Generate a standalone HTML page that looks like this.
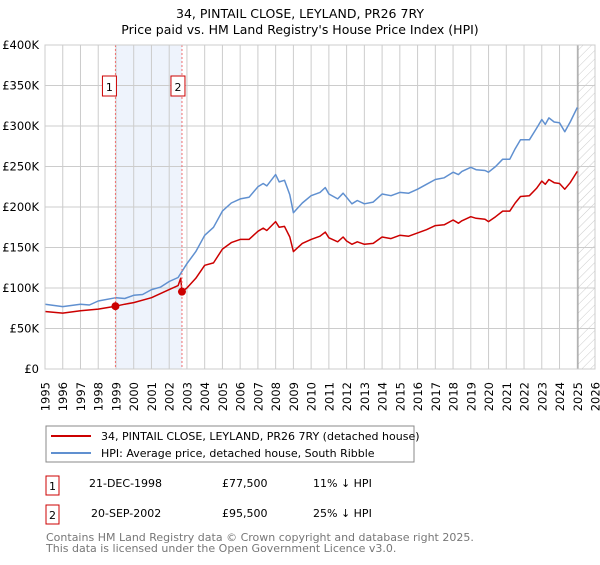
<!DOCTYPE html>
<html><head><meta charset="utf-8"><style>
body{margin:0;background:#fff;font-family:"Liberation Sans","DejaVu Sans",sans-serif;}
svg text{font-family:"DejaVu Sans","Liberation Sans",sans-serif;}
</style></head><body>
<svg id="c" width="600" height="560" xmlns="http://www.w3.org/2000/svg">
<defs><pattern id="hatch" width="6" height="6" patternUnits="userSpaceOnUse" patternTransform="rotate(45)"><line x1="0" y1="0" x2="0" y2="6" stroke="#ccc" stroke-width="1"/></pattern></defs>
<text x="300" y="18" text-anchor="middle" font-size="12.5" fill="#000">34, PINTAIL CLOSE, LEYLAND, PR26 7RY</text>
<text x="300" y="34" text-anchor="middle" font-size="12.5" fill="#000">Price paid vs. HM Land Registry's House Price Index (HPI)</text>
<g id="grid"></g><g id="axes"></g><g id="series"></g>
<g>
<rect x="46" y="426" width="368" height="36" fill="#fff" stroke="#888"/>
<line x1="51" y1="436" x2="91" y2="436" stroke="#cc0000" stroke-width="2"/>
<text x="101" y="440" font-size="11">34, PINTAIL CLOSE, LEYLAND, PR26 7RY (detached house)</text>
<line x1="51" y1="453" x2="91" y2="453" stroke="#6090d0" stroke-width="2"/>
<text x="101" y="457" font-size="11">HPI: Average price, detached house, South Ribble</text>
</g>
<g font-size="11">
<rect x="46" y="476" width="13" height="19" fill="#fff" stroke="#cc0000"/><text x="52.5" y="490" text-anchor="middle">1</text>
<text x="89" y="487">21-DEC-1998</text><text x="222" y="487">£77,500</text><text x="313" y="487">11% ↓ HPI</text>
<rect x="46" y="505" width="13" height="19" fill="#fff" stroke="#cc0000"/><text x="52.5" y="519" text-anchor="middle">2</text>
<text x="91" y="517">20-SEP-2002</text><text x="222" y="517">£95,500</text><text x="313" y="517">25% ↓ HPI</text>
</g>
<text x="46" y="541" font-size="11" fill="#777">Contains HM Land Registry data © Crown copyright and database right 2025.</text>
<text x="46" y="552" font-size="11" fill="#777">This data is licensed under the Open Government Licence v3.0.</text>
</svg>
<script>
const yTicks=[0,50,100,150,200,250,300,350,400];
const yTickLabels=["£0","£50K","£100K","£150K","£200K","£250K","£300K","£350K","£400K"];
const xYears=[1995,1996,1997,1998,1999,2000,2001,2002,2003,2004,2005,2006,2007,2008,2009,2010,2011,2012,2013,2014,2015,2016,2017,2018,2019,2020,2021,2022,2023,2024,2025,2026];
const hpiT=[1995,1996,1997,1997.5,1998,1999,1999.5,2000,2000.5,2001,2001.5,2002,2002.5,2003,2003.5,2004,2004.5,2005,2005.5,2006,2006.5,2007,2007.3,2007.5,2008,2008.2,2008.5,2008.8,2009,2009.5,2010,2010.5,2010.8,2011,2011.5,2011.8,2012,2012.3,2012.6,2013,2013.5,2014,2014.5,2015,2015.5,2016,2016.5,2017,2017.5,2018,2018.3,2018.5,2019,2019.3,2019.8,2020,2020.4,2020.8,2021.2,2021.5,2021.8,2022.3,2022.7,2023,2023.2,2023.4,2023.7,2024,2024.3,2024.6,2025];
const hpiV=[80,77,80,79,84,88,87,91,92,98,101,108,113,130,145,165,175,195,205,210,212,225,229,226,240,231,233,215,193,205,214,218,224,216,210,217,212,204,208,204,206,216,214,218,217,222,228,234,236,243,240,244,249,246,245,243,250,259,259,272,283,283,297,308,302,310,305,304,293,305,323];
const ppT=[1995,1996,1997,1998,1998.97,1999.5,2000,2001,2002,2002.5,2002.65,2002.72,2003,2003.5,2004,2004.5,2005,2005.5,2006,2006.5,2007,2007.3,2007.5,2008,2008.2,2008.5,2008.8,2009,2009.5,2010,2010.5,2010.8,2011,2011.5,2011.8,2012,2012.3,2012.6,2013,2013.5,2014,2014.5,2015,2015.5,2016,2016.5,2017,2017.5,2018,2018.3,2018.5,2019,2019.3,2019.8,2020,2020.4,2020.8,2021.2,2021.5,2021.8,2022.3,2022.7,2023,2023.2,2023.4,2023.7,2024,2024.3,2024.6,2025];
const ppV=[71,69,72,74,77.5,80,82,88,98,103,112,95.5,100,112,128,131,148,156,160,160,170,174,171,182,175,176,163,145,155,160,164,169,162,157,163,158,154,157,154,155,163,161,165,164,168,172,177,178,184,180,183,188,186,185,182,188,195,195,205,213,214,223,232,228,234,230,229,222,230,244];
const saleT=[1998.97,2002.72];
const saleV=[77.5,95.5];
const saleLabels=["1","2"];
const L=45,R=595,T=45,B=369,X0=1995,X1=2026,YMAX=400;
const xs=t=>L+(t-X0)/(X1-X0)*(R-L);
const ys=v=>B-v/YMAX*(B-T);
const NS="http://www.w3.org/2000/svg";
function mk(tag,attrs,parent,txt){const e=document.createElementNS(NS,tag);for(const k in attrs)e.setAttribute(k,attrs[k]);if(txt!==undefined)e.textContent=txt;parent.appendChild(e);return e;}
const grid=document.getElementById('grid'),axes=document.getElementById('axes'),ser=document.getElementById('series');
// shaded region
const sh=mk('rect',{x:xs(saleT[0]),y:T,width:xs(saleT[1])-xs(saleT[0]),height:B-T,fill:'#eef3fc'},grid);


const ht=mk('rect',{x:578,y:T,width:R-578,height:B-T,fill:'url(#hatch)'},grid);


xYears.forEach(y=>{const l=mk('line',{x1:xs(y),x2:xs(y),y1:T,y2:B,stroke:'#ccc','stroke-width':1},grid);


const t=mk('text',{x:0,y:0,transform:`translate(${xs(y)+4.5},382) rotate(-90)`,'text-anchor':'end','font-size':'11.5'},axes,String(y));

});
yTicks.forEach((v,i)=>{const l=mk('line',{x1:L,x2:R,y1:ys(v),y2:ys(v),stroke:'#ccc','stroke-width':1},grid);


const t=mk('text',{x:39,y:ys(v)+4,'text-anchor':'end','font-size':'11.5'},axes,yTickLabels[i]);

});
mk('line',{x1:578,x2:578,y1:T,y2:B,stroke:'#999','stroke-width':1},grid);
function path(T_,V_,color,name){const d=T_.map((t,i)=>(i?'L':'M')+xs(t).toFixed(1)+','+ys(V_[i]).toFixed(1)).join('');
const p=mk('path',{d:d,fill:'none',stroke:color,'stroke-width':1.5,'stroke-linejoin':'round'},ser);

}
path(hpiT,hpiV,'#6090d0','hpi-line');
path(ppT,ppV,'#cc0000','price-paid-line');
saleT.forEach((t,i)=>{const l=mk('line',{x1:xs(t),x2:xs(t),y1:T,y2:B,stroke:'#f07070','stroke-dasharray':'2,2','stroke-width':1},ser);


const c=mk('circle',{cx:xs(t),cy:ys(saleV[i]),r:4,fill:'#cc0000'},ser);


const b=mk('rect',{x:xs(t)-11-(i?-2:0)-2,y:76,width:14,height:20,fill:'#fff',stroke:'#cc0000'},ser);


const tx=mk('text',{x:xs(t)-6-(i?-2:0),y:91,'text-anchor':'middle','font-size':'11'},ser,saleLabels[i]);

});
const fr=mk('rect',{x:L,y:T,width:R-L,height:B-T,fill:'none',stroke:'#ccc'},ser);


</script>
</body></html>
